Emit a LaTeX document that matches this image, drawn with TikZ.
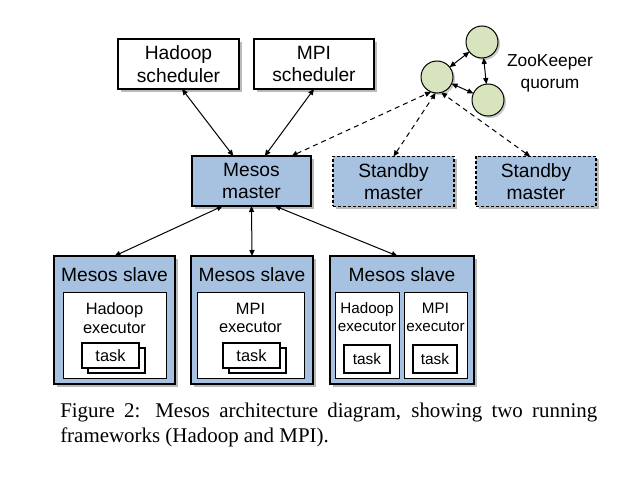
\documentclass[tikz,border=0pt]{standalone}
\usepackage{fontspec}
\setmainfont{Liberation Sans}
\newfontfamily\capfont{Liberation Serif}
\usetikzlibrary{arrows.meta,shadows}
\definecolor{boxblue}{RGB}{167,194,224}
\definecolor{zkgreen}{RGB}{215,228,189}
\hyphenpenalty=10000

\begin{document}
\begin{tikzpicture}[x=0.75pt,y=0.75pt,yscale=-1,xscale=1,
  >={Triangle[length=4.5pt,width=3.9pt]},
  boxshadow/.style={drop shadow={shadow xshift=2pt,shadow yshift=-2pt,fill=black!60,opacity=.45}},
  box/.style={draw,line width=0.9pt,minimum width=90pt,minimum height=37.5pt,inner sep=0pt,outer sep=0pt,align=center,font=\fontsize{14.4}{17}\selectfont,boxshadow},
  standby/.style={box,fill=boxblue,dash pattern=on 2.25pt off 1.5pt},
  slave/.style={draw,fill=boxblue,line width=1pt,minimum height=96pt,inner sep=0pt,outer sep=0pt,boxshadow},
  slavetext/.style={inner sep=0pt,font=\fontsize{14.4}{17}\selectfont},
  exec/.style={draw,fill=white,line width=0.75pt,minimum height=64.5pt,inner sep=0pt,outer sep=0pt},
  exectext/.style={inner sep=0pt,align=center,font=\fontsize{12.3}{14}\selectfont},
  task/.style={draw,fill=white,line width=1.1pt,inner sep=0pt,outer sep=0pt,font=\fontsize{12.3}{14}\selectfont},
  zk/.style={circle,draw,fill=zkgreen,line width=0.75pt,minimum size=24pt,inner sep=0pt,outer sep=0pt,drop shadow={shadow xshift=1.5pt,shadow yshift=-1.5pt,fill=black!60,opacity=.35}},
  link/.style={<->,line width=0.75pt},
  sync/.style={<->,line width=0.75pt,dash pattern=on 3.75pt off 3pt}
]
\useasboundingbox (0,0) rectangle (640,478);

%Shapes: schedulers and masters
\node [box,fill=white,minimum width=90.75pt] (hsched) at (178.5,64) {Hadoop\\scheduler};
\node [box,fill=white] (msched) at (314,64) {MPI\\scheduler};
\node [box,fill=boxblue,minimum width=89.25pt] (master) at (251.5,181) {Mesos\\master};
\node [standby,minimum width=90.75pt] (standbyA) at (393.5,181.5) {Standby\\master};
\node [standby] (standbyB) at (536,181.5) {Standby\\master};

%Shapes: ZooKeeper quorum
\node [zk] (zkA) at (437,77) {};
\node [zk] (zkB) at (482,42) {};
\node [zk] (zkC) at (488,100) {};
% Text Node
\node [inner sep=0pt,align=center,font=\fontsize{13}{16.5}\selectfont] (zktext) at (550,73) {ZooKeeper\\quorum};

%Shapes: slaves
\node [slave,minimum width=90.75pt] (slaveA) at (114.5,320) {};
\node [slave,minimum width=91.5pt] (slaveB) at (252,320) {};
\node [slave,minimum width=108pt] (slaveC) at (402,320) {};
\node [slavetext] (slaveAtext) at (114.5,275) {Mesos slave};
\node [slavetext] (slaveBtext) at (252,275) {Mesos slave};
\node [slavetext] (slaveCtext) at (402,275) {Mesos slave};

%Shapes: executors
\node [exec,minimum width=77.25pt] (execA) at (114.5,335) {};
\node [exec,minimum width=80.25pt] (execB) at (250.5,335) {};
\node [exec,minimum width=48pt] (execCa) at (367,335) {};
\node [exec,minimum width=47.25pt] (execCb) at (435.5,335) {};
\node [exectext] (execAtext) at (114.5,318) {Hadoop\\executor};
\node [exectext] (execBtext) at (250.5,318) {MPI\\executor};
\node [exectext,font=\fontsize{11.4}{13.5}\selectfont] (execCatext) at (367,317) {Hadoop\\executor};
\node [exectext,font=\fontsize{11.4}{13.5}\selectfont] (execCbtext) at (435.5,317) {MPI\\executor};

%Shapes: tasks
\node [task,minimum width=42.75pt,minimum height=18.75pt] (taskAback) at (116.5,360.5) {};
\node [task,minimum width=42.75pt,minimum height=18.75pt] (taskA) at (110.5,355.5) {task};
\node [task,minimum width=42.75pt,minimum height=18.75pt] (taskBback) at (257.5,360.5) {};
\node [task,minimum width=42.75pt,minimum height=18.75pt] (taskB) at (251.5,355.5) {task};
\node [task,minimum width=34.5pt,minimum height=21pt,font=\fontsize{11.6}{14}\selectfont] (taskCa) at (367,359) {task};
\node [task,minimum width=33pt,minimum height=21pt,font=\fontsize{11.6}{14}\selectfont] (taskCb) at (435,359) {task};

%Straight Lines
\draw [link] (hsched.-82) -- (master.126);
\draw [link] (msched.south) -- (master.62);
\draw [link] (master.-139) -- (slaveA.north);
\draw [link] (master.south) -- (slaveB.north);
\draw [link] (master.-47) -- (slaveC.94);
\draw [sync] (master.32) -- (zkA.-112);
\draw [sync] (standbyA.north) -- (zkA.-95);
\draw [sync] (standbyB.103) -- (zkA.-75);
\draw [link] (zkA) -- (zkB);
\draw [link] (zkA) -- (zkC);
\draw [link] (zkB) -- (zkC);

% Text Node
\node [anchor=north west,inner sep=0pt,text width=402.75pt,align=justify,font=\capfont\fontsize{15.7}{18.75}\selectfont] (caption) at (60,403) {Figure 2: Mesos architecture diagram, showing two running frameworks (Hadoop and MPI).};

\end{tikzpicture}
\end{document}
